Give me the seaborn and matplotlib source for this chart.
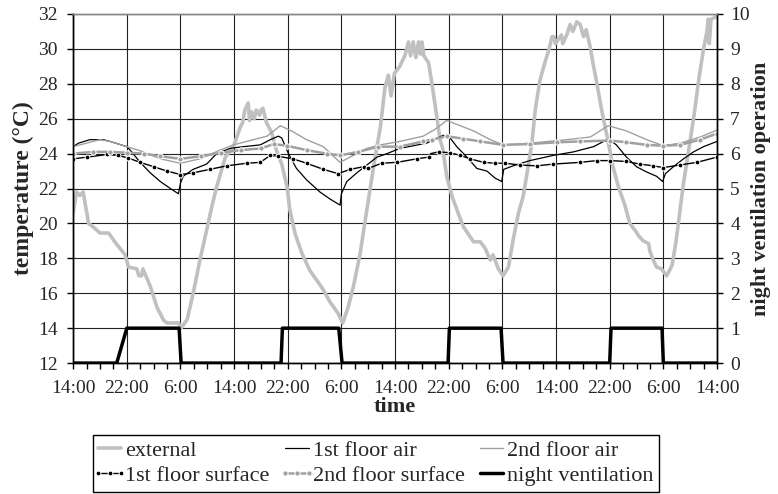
import numpy as np
import pandas as pd
import matplotlib
matplotlib.use('Agg')
import matplotlib.pyplot as plt
import seaborn as sns

# hours since 14:00 of the first day
ext_t = [0, 0.5, 1.0, 1.5, 2.3, 3.0, 4.0, 5.3, 6.3, 7.75, 8.25, 9.5, 9.8, 10.2, 10.4,
         11.5, 12.5, 13.5, 14.0, 15.7, 16.1, 17.0, 17.9, 18.9, 19.9, 20.7, 21.4, 22.7,
         23.9, 24.9, 25.3, 25.6, 26.1, 26.3, 26.6, 27.0, 27.3, 27.8, 28.0, 28.3, 28.8,
         29.6, 30.3, 31.1, 31.9, 32.3, 33.1, 34.1, 35.3, 36.6, 37.3, 38.3, 39.5, 40.2,
         41.0, 41.8, 42.8, 43.8, 44.8, 45.3, 45.8, 46.5, 47.0, 47.4, 47.9, 48.7, 49.5,
         50.0, 50.3, 50.7, 51.1, 51.5, 51.8, 52.0, 52.3, 53.0, 53.5, 54.0, 54.7, 55.1,
         55.7, 56.5, 57.4, 58.2, 58.9, 59.7, 60.7, 61.4, 62.2, 62.6, 63.4, 64.1, 64.9,
         65.6, 66.4, 67.1, 67.9, 68.4, 68.9, 69.6, 70.4, 70.9, 71.4, 71.7, 71.9, 72.8,
         73.0, 73.6, 74.1, 74.5, 75.1, 75.6, 76.1, 76.5, 77.1, 77.5, 78.1, 78.8, 79.6,
         80.5, 81.3, 82.3, 83.0, 83.8, 84.3, 85.0, 85.8, 86.0, 86.5, 87.0, 87.7, 88.5,
         89.3, 89.9, 90.5, 91.0, 91.7, 92.5, 93.3, 94.0, 94.5, 94.7, 94.85, 95.1, 95.7, 96.0]
ext_v = [20.6, 21.8, 21.6, 21.8, 20.0, 19.8, 19.45, 19.45, 18.9, 18.2, 17.5, 17.4, 17.0, 17.0, 17.4,
         16.4, 15.2, 14.45, 14.3, 14.3, 14.0, 14.5, 16.0, 17.9, 19.6, 21.0, 22.1, 23.8,
         24.4, 25.5, 25.8, 26.5, 26.9, 25.9, 26.4, 26.0, 26.5, 26.2, 26.5, 26.6, 25.8,
         25.2, 24.2, 23.4, 22.1, 20.8, 19.4, 18.3, 17.3, 16.6, 16.2, 15.5, 14.85, 14.3,
         15.2, 16.4, 18.3, 20.8, 23.25, 24.4, 25.5, 27.8, 28.5, 27.3, 28.6, 29.0, 29.65,
         30.4, 29.6, 30.4, 29.5, 30.4, 29.7, 30.4, 29.6, 29.2, 28.0, 26.7, 24.8, 24.3,
         22.7, 21.55, 20.6, 19.8, 19.4, 18.95, 18.95, 18.6, 17.9, 18.2, 17.4, 17.0, 17.5,
         19.05, 20.6, 21.55, 23.4, 24.6, 26.5, 28.2, 29.3, 29.9, 30.7, 30.7, 30.3, 30.8,
         30.3, 30.8, 31.4, 31.0, 31.55, 31.4, 30.7, 31.1, 30.1, 29.2, 28.0, 26.5, 25.0,
         23.25, 22.1, 21.0, 20.0, 19.6, 19.3, 19.0, 18.85, 18.4, 17.9, 17.5, 17.4, 17.0,
         17.6, 19.0, 20.8, 22.3, 24.0, 26.0, 28.3, 30.0, 31.0, 31.7, 30.3, 31.7, 31.8, 32.0]

air1_t = [0, 0.8, 2.5, 4.5, 5.5, 8.0, 8.5, 10.0, 11.5, 13.0, 14.5, 15.7, 16.0, 16.4, 17.9,
          19.9, 21.4, 23.4, 25.4, 27.9, 29.4, 30.6, 31.1, 32.1, 33.3, 34.8, 36.8, 38.3,
          39.8, 40.0, 40.8, 42.3, 43.8, 45.3, 46.8, 48.7, 52.7, 55.2, 56.1, 57.2, 58.7,
          60.2, 61.7, 62.9, 63.9, 64.2, 65.6, 68.1, 71.6, 74.6, 77.6, 79.1, 80.1, 81.0,
          82.5, 84.0, 85.5, 87.0, 87.9, 88.3, 89.5, 91.0, 92.5, 94.0, 96.0]
air1_v = [24.4, 24.6, 24.8, 24.8, 24.7, 24.4, 24.2, 23.5, 22.9, 22.4, 22.0, 21.7, 22.3, 22.7, 23.1,
          23.4, 24.0, 24.3, 24.4, 24.5, 24.8, 25.0, 24.9, 24.0, 23.15, 22.5, 21.8, 21.4,
          21.05, 21.7, 22.4, 22.9, 23.35, 23.8, 24.0, 24.3, 24.6, 25.05, 24.95, 24.4, 23.8,
          23.15, 23.0, 22.6, 22.4, 23.1, 23.3, 23.6, 23.9, 24.1, 24.4, 24.7, 24.75, 24.5,
          23.8, 23.25, 22.95, 22.7, 22.4, 22.85, 23.25, 23.7, 24.1, 24.4, 24.7]

air2_t = [0, 1.5, 4.0, 5.5, 8.0, 10.5, 13.0, 16.0, 18.9, 21.9, 23.9, 25.9, 28.9, 30.9,
          32.8, 34.8, 37.3, 39.8, 41.3, 43.8, 45.8, 48.7, 52.2, 54.0, 55.7, 57.7, 59.7,
          62.2, 64.1, 66.6, 69.6, 73.6, 77.1, 79.8, 82.5, 85.5, 88.0, 90.5, 93.5, 96.0]
air2_v = [24.4, 24.55, 24.8, 24.7, 24.4, 24.1, 23.7, 23.45, 23.7, 24.2, 24.5, 24.7, 25.0, 25.6,
          25.25, 24.8, 24.4, 23.5, 23.8, 24.3, 24.5, 24.7, 25.0, 25.4, 25.9, 25.6, 25.3,
          24.8, 24.5, 24.55, 24.65, 24.8, 24.95, 25.6, 25.3, 24.8, 24.45, 24.6, 24.95, 25.35]

surf1_t = [0, 2.1, 5.0, 6.7, 8.2, 10.0, 12.0, 14.0, 16.0, 17.9, 20.4, 22.9, 25.9, 27.9,
           29.4, 30.5, 32.8, 34.8, 37.3, 39.5, 41.3, 43.3, 44.0, 46.0, 48.3, 51.2, 53.0,
           53.3, 54.5, 56.2, 57.7, 59.2, 61.2, 62.9, 64.4, 66.6, 69.1, 71.6, 75.6, 78.1,
           80.1, 82.5, 84.5, 86.5, 88.0, 90.5, 93.0, 96.0]
surf1_v = [23.7, 23.8, 23.95, 23.9, 23.75, 23.5, 23.25, 23.0, 22.8, 22.9, 23.1, 23.3, 23.45, 23.5,
           23.9, 23.85, 23.7, 23.45, 23.1, 22.85, 23.1, 23.25, 23.15, 23.45, 23.5, 23.7, 23.8,
           24.0, 24.1, 24.05, 23.9, 23.7, 23.5, 23.45, 23.45, 23.35, 23.3, 23.4, 23.5, 23.6,
           23.6, 23.55, 23.4, 23.3, 23.2, 23.35, 23.5, 23.8]

surf2_t = [0, 3.0, 5.5, 8.0, 10.5, 13.0, 16.0, 19.0, 22.0, 25.0, 28.0, 29.9, 31.9, 34.8,
           37.8, 39.8, 42.5, 45.5, 48.7, 52.2, 53.5, 55.7, 58.2, 60.7, 64.1, 68.1, 72.1,
           75.6, 80.1, 82.5, 85.5, 88.0, 90.5, 93.5, 96.0]
surf2_v = [24.0, 24.1, 24.1, 24.05, 24.0, 23.85, 23.7, 23.85, 24.05, 24.2, 24.3, 24.55, 24.45, 24.2,
           24.0, 23.9, 24.1, 24.4, 24.4, 24.7, 24.8, 25.0, 24.85, 24.7, 24.5, 24.55, 24.65,
           24.7, 24.75, 24.65, 24.5, 24.45, 24.5, 24.8, 25.15]

vent_t = [0, 6.5, 8.0, 15.8, 16.1, 31.0, 31.2, 39.6, 40.1, 55.9, 56.1, 63.8, 64.1,
          80.0, 80.2, 87.8, 88.0, 96.0]
vent_v = [0, 0, 1, 1, 0, 0, 1, 1, 0, 0, 1, 1, 0, 0, 1, 1, 0, 0]

tick_hours = list(range(0, 97, 8))
tick_labels = ['14:00', '22:00', '6:00'] * 4 + ['14:00']

sns.set_theme(style='white')
plt.rcParams['font.family'] = ['Liberation Serif', 'DejaVu Serif']
plt.rcParams['font.size'] = 14

fig, ax = plt.subplots(figsize=(7.78, 4.94), dpi=100)
fig.subplots_adjust(left=0.094, right=0.9216, top=0.9717, bottom=0.265)
ax2 = ax.twinx()

sns.lineplot(x=ext_t, y=ext_v, ax=ax, color='#c0c0c0', lw=2.6, label='external',
             sort=False, estimator=None, legend=False)
sns.lineplot(x=air1_t, y=air1_v, ax=ax, color='black', lw=0.9, label='1st floor air',
             sort=False, estimator=None, legend=False)
sns.lineplot(x=air2_t, y=air2_v, ax=ax, color='#a0a0a0', lw=1.0, label='2nd floor air',
             sort=False, estimator=None, legend=False)
sns.lineplot(x=surf1_t, y=surf1_v, ax=ax, color='black', lw=1.0, marker='o', ms=3.5,
             markevery=0.012, label='1st floor surface', sort=False, estimator=None,
             legend=False)
sns.lineplot(x=surf2_t, y=surf2_v, ax=ax, color='#a0a0a0', lw=1.8, marker='o', ms=3.8,
             markevery=0.012, label='2nd floor surface', sort=False, estimator=None,
             legend=False)
sns.lineplot(x=vent_t, y=vent_v, ax=ax2, color='black', lw=2.5, label='night ventilation',
             sort=False, estimator=None, legend=False)

ax.set_xlim(0, 96)
ax.set_ylim(12, 32)
ax.set_yticks(range(12, 33, 2))
ax.set_xticks(tick_hours)
ax.set_xticklabels(tick_labels)
ax.set_xticks(range(0, 97, 2), minor=True)
ax2.set_ylim(0, 10)
ax2.set_yticks(range(0, 11))

ax.grid(True, which='major', color='#222222', lw=0.8)
ax.set_axisbelow(True)
for a in (ax, ax2):
    for s in a.spines.values():
        s.set_color('black')
        s.set_linewidth(1.0)
    a.spines['top'].set_color('#888888')
ax.tick_params(axis='both', which='both', direction='out', length=4.5, width=1,
               color='black', pad=6.5, labelsize=14, bottom=True, left=True)
ax.tick_params(axis='x', which='both', pad=8)
ax2.tick_params(axis='y', direction='out', length=4.5, width=1, color='black', pad=5,
                labelsize=14, right=True)
ax2.grid(False)

ax.set_xlabel('time', fontweight='bold', fontsize=16, labelpad=0)
ax.set_ylabel('temperature (°C)', fontweight='bold', fontsize=17, labelpad=3)
ax2.set_ylabel('night ventilation operation', fontweight='bold', fontsize=16, labelpad=1)

h1 = {l.get_label(): l for l in ax.get_lines() + ax2.get_lines()}
order = ['external', '1st floor surface', '1st floor air', '2nd floor surface',
         '2nd floor air', 'night ventilation']
leg = fig.legend([h1[k] for k in order], order, loc='upper center',
                 bbox_to_anchor=(0.4833, 0.1194), ncol=3, frameon=True, fancybox=False,
                 edgecolor='black', framealpha=1, fontsize=16, handlelength=1.05,
                 handletextpad=0.18, columnspacing=0.7, labelspacing=0.2,
                 borderpad=0.25, borderaxespad=0)
leg.get_frame().set_linewidth(1.0)
for lh in leg.get_lines():
    lh.set_markevery(None)

fig.savefig('out.png', dpi=100)
